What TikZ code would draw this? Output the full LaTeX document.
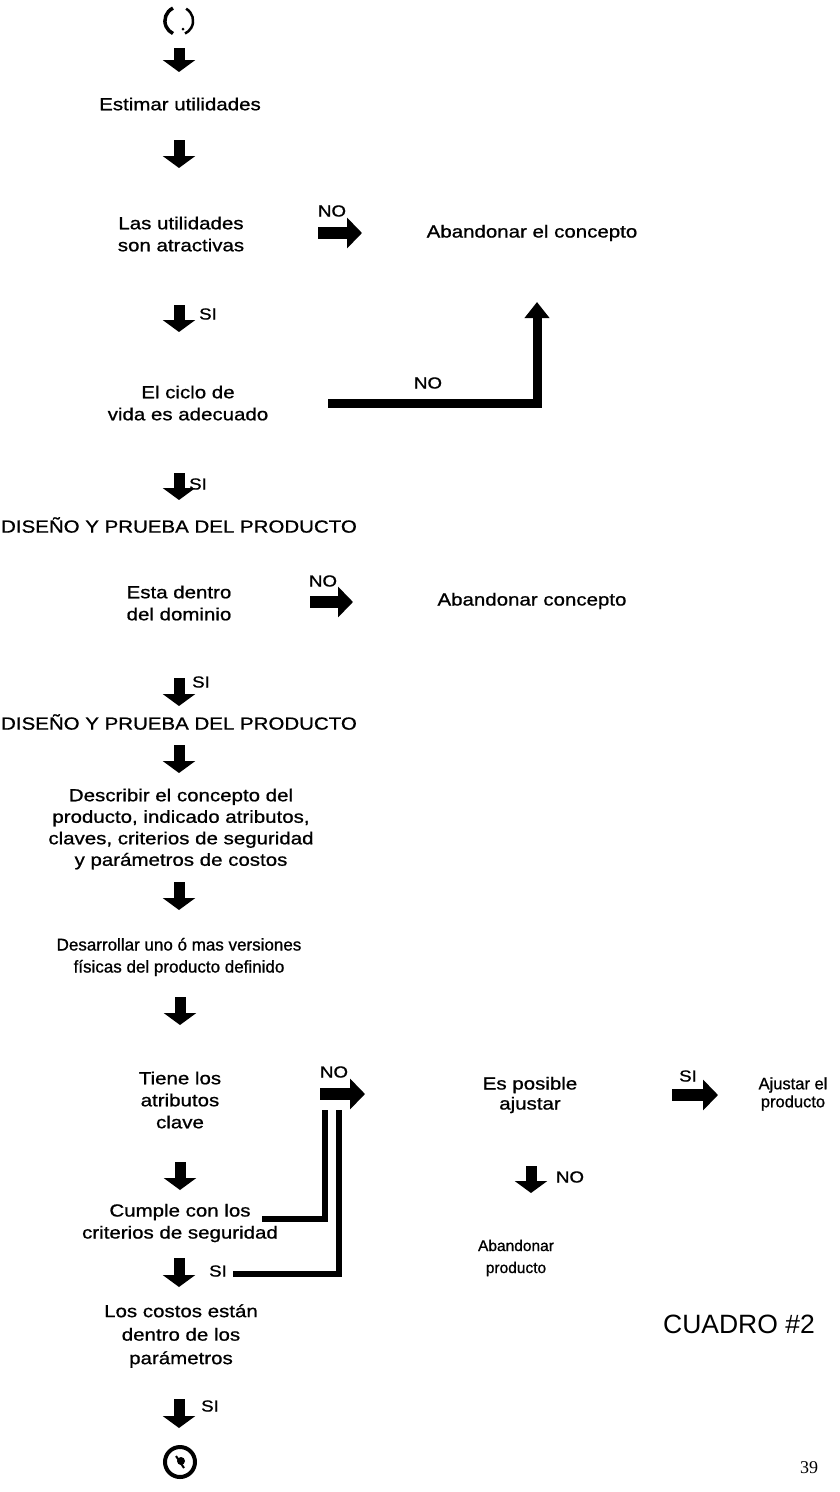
\documentclass[tikz,border=0pt]{standalone}
\usepackage{fontspec}
\setmainfont{Liberation Sans}
\newfontfamily\wf[FakeStretch=1.17,FakeBold=0.9]{Liberation Sans}
\newfontfamily\pf[FakeBold=0.9]{Liberation Sans}
\newfontfamily\sr{Liberation Serif}
\usetikzlibrary{arrows.meta}
\begin{document}
\begin{tikzpicture}[x=1pt,y=-1pt,
  txt/.style={inner sep=0pt, align=center, font=\wf\fontsize{17.5}{22}\selectfont},
  plain/.style={inner sep=0pt, align=center, font=\pf\fontsize{17}{22}\selectfont},
  lbl/.style={inner sep=0pt, font=\wf\fontsize{16}{18}\selectfont},
  darr/.style={line width=11pt, -{Triangle[width=32pt,length=12pt]}},
  rarr/.style={line width=12pt, -{Triangle[width=30pt,length=15pt]}},
  bar/.style={line width=9pt, line join=miter},
  dbl/.style={line width=6.5pt, line join=miter}]
\useasboundingbox (0,0) rectangle (840,1492);
\fill[white] (0,0) rectangle (840,1492);

% terminal symbols
\node[circle, minimum size=28pt, inner sep=0pt] (start) at (179,21) {};
\draw[line width=3.5pt] (start.115) arc[start angle=115, end angle=245, radius=14pt];
\draw[line width=2.5pt] (start.60) arc[start angle=60, end angle=-65, radius=14pt];
\fill (183,29) circle (1.5pt);
\node[circle, draw, line width=4pt, minimum size=30pt, inner sep=0pt] (end) at (180,1462) {};
\fill (181,1461) circle (4pt);
\draw[line width=2pt] (176,1456) -- (184,1468);

% text nodes
\node[txt] (est) at (180,104) {Estimar utilidades};
\node[txt] (util) at (181,234) {Las utilidades\\son atractivas};
\node[txt] (ab1) at (532,233) {Abandonar el concepto};
\node[txt] (ciclo) at (188,403) {El ciclo de\\vida es adecuado};
\node[txt] (dis1) at (179,525) {DISEÑO Y PRUEBA DEL PRODUCTO};
\node[txt] (dom) at (179,603) {Esta dentro\\del dominio};
\node[txt] (ab2) at (532,601) {Abandonar concepto};
\node[txt] (dis2) at (179,722) {DISEÑO Y PRUEBA DEL PRODUCTO};
\node[txt, font=\wf\fontsize{17.5}{21.5}\selectfont] (desc) at (181,829) {Describir el concepto del\\producto, indicado atributos,\\claves, criterios de seguridad\\y parámetros de costos};
\node[plain] (des) at (179,957) {Desarrollar uno ó mas versiones\\físicas del producto definido};
\node[txt] (tiene) at (180,1100) {Tiene los\\atributos\\clave};
\node[txt, font=\wf\fontsize{17.5}{20}\selectfont] (pos) at (530,1095) {Es posible\\ajustar};
\node[plain, font=\pf\fontsize{16.5}{18}\selectfont] (aj) at (793,1094) {Ajustar el\\producto};
\node[txt] (cumple) at (180,1223) {Cumple con los\\criterios de seguridad};
\node[plain, font=\pf\fontsize{15.5}{22}\selectfont] (abp) at (516,1258) {Abandonar\\producto};
\node[txt, font=\wf\fontsize{17.5}{23.5}\selectfont] (costos) at (181,1336) {Los costos están\\dentro de los\\parámetros};
\node[inner sep=0pt, font=\fontsize{26.5}{30}\selectfont] (cuadro) at (739,1324) {CUADRO \#2};
\node[inner sep=0pt, font=\sr\fontsize{18}{20}\selectfont] (pg) at (809,1468) {39};

% labels
\node[lbl] (no1) at (332,211) {NO};
\node[lbl] (si1) at (208,314) {SI};
\node[lbl] (no2) at (428,383) {NO};
\node[lbl] (si2) at (198,484) {SI};
\node[lbl] (no3) at (323,581) {NO};
\node[lbl] (si3) at (201,682) {SI};
\node[lbl] (no4) at (334,1072) {NO};
\node[lbl] (si4) at (688,1076) {SI};
\node[lbl] (no5) at (570,1177) {NO};
\node[lbl] (si5) at (218,1271) {SI};
\node[lbl] (si6) at (210,1406) {SI};

% arrow end points
\coordinate (d1t) at (179,48);   \coordinate (d1b) at (179,72);
\coordinate (d2t) at (179,140);  \coordinate (d2b) at (179,168);
\coordinate (d3t) at (179,305);  \coordinate (d3b) at (179,332);
\coordinate (d4t) at (179,473);  \coordinate (d4b) at (179,500);
\coordinate (d5t) at (179,678);  \coordinate (d5b) at (179,706);
\coordinate (d6t) at (179,745);  \coordinate (d6b) at (179,773);
\coordinate (d7t) at (179,882);  \coordinate (d7b) at (179,910);
\coordinate (d8t) at (180,997);  \coordinate (d8b) at (180,1025);
\coordinate (d9t) at (180,1162); \coordinate (d9b) at (180,1190);
\coordinate (d10t) at (179,1258); \coordinate (d10b) at (179,1287);
\coordinate (d11t) at (179,1399); \coordinate (d11b) at (179,1428);
\coordinate (d12t) at (531,1166); \coordinate (d12b) at (531,1193);
\coordinate (r1s) at (318,233);  \coordinate (r1e) at (362,233);
\coordinate (r2s) at (310,602);  \coordinate (r2e) at (353,602);
\coordinate (r3s) at (320,1094); \coordinate (r3e) at (365,1094);
\coordinate (r4s) at (672,1095); \coordinate (r4e) at (718,1095);
\coordinate (L1) at (328,403); \coordinate (L2) at (537,403); \coordinate (L3) at (537,302);
\coordinate (P1) at (262,1219); \coordinate (P2) at (325,1219); \coordinate (P3) at (325,1110);
\coordinate (Q1) at (233,1274); \coordinate (Q2) at (339,1274); \coordinate (Q3) at (339,1110);

% block arrows
\foreach \i in {1,...,12} { \draw[darr] (d\i t) -- (d\i b); }
\foreach \i in {1,...,4} { \draw[rarr] (r\i s) -- (r\i e); }
\draw[bar, -{Triangle[width=24pt,length=16pt]}] (L1) -- (L2) -- (L3);
\draw[dbl] (P1) -- (P2) -- (P3);
\draw[dbl] (Q1) -- (Q2) -- (Q3);
\end{tikzpicture}
\end{document}
